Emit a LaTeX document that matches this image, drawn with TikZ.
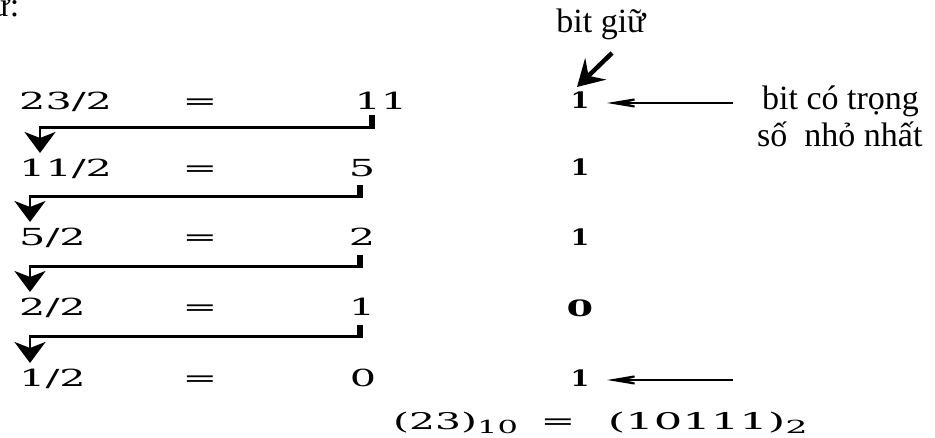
\documentclass[tikz,border=0pt]{standalone}
\usepackage{fontspec}
\setmainfont{Liberation Serif}
\newfontfamily\numfont{DejaVu Serif}
\usetikzlibrary{arrows.meta}
\newcommand\nm[1]{\scalebox{1.76}[1]{\numfont\fontsize{23.5}{23.5}\selectfont #1}}
\newcommand\bnm[2][1.2]{\scalebox{#1}[1]{\numfont\bfseries\fontsize{22.5}{22.5}\selectfont #2}}
\newcommand\eqpart[2]{\scalebox{#1}[1]{\numfont\fontsize{23}{23}\selectfont #2}}
\newcommand\eqsub[1]{\raisebox{-5pt}{\fontsize{18}{18}\selectfont #1}}
\begin{document}
\begin{tikzpicture}[x=1pt,y=-1pt,
  lbl/.style={inner sep=0pt,font=\fontsize{34}{40}\selectfont},
  num/.style={inner sep=0pt},
  bracket/.style={line width=6pt},
  link/.style={line width=2.7pt,-{Stealth[length=21pt,width=31pt,inset=6pt]}},
  ptr/.style={line width=2pt,-{Stealth[length=48pt,width=16pt,inset=30pt]}},
  keeparrow/.style={line width=4.5pt,-{Stealth[length=26pt,width=30pt,inset=10pt]}}]
\useasboundingbox (0,0) rectangle (935,438);
\fill[white] (0,0) rectangle (935,438);

% cut-off text at top left
\node[lbl,anchor=base east] (cut) at (19.5,17) {ư:};

% left column: divisions
\node[num,anchor=base west] (e1) at (19,110) {\nm{23/2}};
\node[num,anchor=base west] (e2) at (19,177) {\nm{11/2}};
\node[num,anchor=base west] (e3) at (19,246) {\nm{5/2}};
\node[num,anchor=base west] (e4) at (19,316) {\nm{2/2}};
\node[num,anchor=base west] (e5) at (19,387) {\nm{1/2}};

\node[num,anchor=base] (q1) at (200,110) {\nm{=}};
\node[num,anchor=base] (q2) at (200,177) {\nm{=}};
\node[num,anchor=base] (q3) at (200,246) {\nm{=}};
\node[num,anchor=base] (q4) at (200,316) {\nm{=}};
\node[num,anchor=base] (q5) at (200,387) {\nm{=}};

\node[num,anchor=base] (v1) at (381,110) {\nm{11}};
\node[num,anchor=base] (v2) at (362,177) {\nm{5}};
\node[num,anchor=base] (v3) at (362,246) {\nm{2}};
\node[num,anchor=base] (v4) at (362,316) {\nm{1}};
\node[num,anchor=base] (v5) at (363,387) {\nm{0}};

% right column: remainders
\node[num,anchor=base] (b1) at (580,109) {\bnm{1}};
\node[num,anchor=base] (b2) at (580,176) {\bnm{1}};
\node[num,anchor=base] (b3) at (580,246) {\bnm{1}};
\node[num,anchor=base] (b4) at (580,317) {\bnm[1.7]{0}};
\node[num,anchor=base] (b5) at (580,387) {\bnm{1}};

% brackets and down arrows
\coordinate (k1) at (371.5,115); \coordinate (kb1) at (371.5,129);
\coordinate (c1) at (371.5,127.5); \coordinate (t1) at (40,153);
\coordinate (k2) at (360,185); \coordinate (kb2) at (360,198);
\coordinate (c2) at (360,196.5); \coordinate (t2) at (30,222);
\coordinate (k3) at (360,255); \coordinate (kb3) at (360,268);
\coordinate (c3) at (360,266.5); \coordinate (t3) at (30,292);
\coordinate (k4) at (360,325); \coordinate (kb4) at (360,338);
\coordinate (c4) at (360,336.5); \coordinate (t4) at (30,363);
\foreach \i in {1,2,3,4}{
  \draw[bracket] (k\i) -- (kb\i);
  \draw[link] (c\i) -| (t\i);
}

% labels on the right
\node[lbl,anchor=base] (keep) at (601,33) {bit giữ};
\coordinate (ks) at (612,53); \coordinate (ke) at (577,87);
\draw[keeparrow] (ks) -- (ke);

\node[lbl,anchor=base west] (lsb1) at (762,110) {bit có trọng};
\node[lbl,anchor=base west] (lsb2) at (757,147) {số\ \ nhỏ nhất};
\coordinate (p1) at (733,103); \coordinate (a1) at (607,103);
\draw[ptr] (p1) -- (a1);
\coordinate (p5) at (733,380); \coordinate (a5) at (607,380);
\draw[ptr] (p5) -- (a5);

% result
\node[num,anchor=base west] (rl) at (393,429) {\eqpart{1.78}{(23)\eqsub{10}}};
\node[num,anchor=base] (rq) at (558,429) {\nm{=}};
\node[num,anchor=base east] (rr) at (808,429) {\eqpart{1.95}{(10111)\eqsub{2}}};
\end{tikzpicture}
\end{document}
